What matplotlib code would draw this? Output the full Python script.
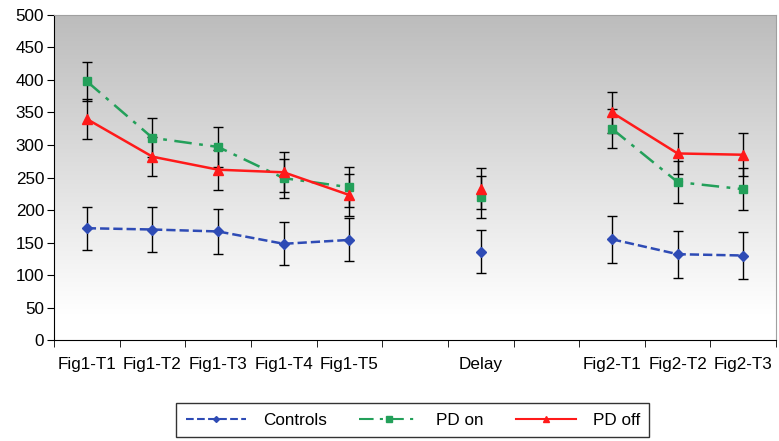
import numpy as np
import matplotlib
matplotlib.use("Agg")
import matplotlib.pyplot as plt
from matplotlib.lines import Line2D

plt.rcParams['font.family'] = ['Liberation Sans', 'DejaVu Sans']

nan = np.nan
# categories (two empty slots act as gaps, like in the original sheet)
categories = ['Fig1-T1', 'Fig1-T2', 'Fig1-T3', 'Fig1-T4', 'Fig1-T5', '',
              'Delay', '', 'Fig2-T1', 'Fig2-T2', 'Fig2-T3']

controls = [172, 170, 167, 148, 154, nan, 136, nan, 155, 132, 130]
controls_err = [33, 34, 34, 33, 33, nan, 33, nan, 36, 36, 36]
pd_on = [398, 311, 297, 249, 235, nan, 220, nan, 325, 243, 232]
pd_on_err = [30, 30, 31, 30, 31, nan, 32, nan, 30, 32, 32]
pd_off = [340, 282, 262, 258, 223, nan, 233, nan, 350, 287, 285]
pd_off_err = [30, 30, 31, 31, 32, nan, 32, nan, 31, 32, 33]

fig = plt.figure(figsize=(7.79, 4.41), dpi=100)
ax = fig.add_axes([0.0693, 0.229, 0.927, 0.737])

x = np.arange(len(categories))

# gray -> white gradient background
grad = np.linspace(0, 1, 256).reshape(-1, 1)
cmap = matplotlib.colors.LinearSegmentedColormap.from_list(
    'bg', [(0, '#ffffff'), (0.08, '#ffffff'), (1, '#bcbcbc')])
ax.imshow(grad, aspect='auto', cmap=cmap, origin='lower',
          extent=[-0.5, len(categories) - 0.5, 0, 500], zorder=0)

series = [
    (controls, controls_err, '#2e4bb5', '--', 'D', 5, 'Controls'),
    (pd_on, pd_on_err, '#23a05a', (0, (7, 3, 1.5, 3)), 's', 6, 'PD on'),
    (pd_off, pd_off_err, '#ff1a1a', '-', '^', 7, 'PD off'),
]

for vals, err, col, ls, mk, ms, lab in series:
    ax.errorbar(x, vals, yerr=err, fmt='none', ecolor='black',
                elinewidth=1, capsize=3.5, capthick=1, zorder=2)

for vals, err, col, ls, mk, ms, lab in series:
    ax.plot(x, vals, color=col, linestyle=ls, linewidth=1.8,
            marker=mk, markersize=ms, markeredgecolor=col, zorder=3)

ax.set_xlim(-0.5, len(categories) - 0.5)
ax.set_ylim(0, 500)
ax.set_yticks(np.arange(0, 501, 50))
ax.set_xticks(x)
ax.set_xticklabels(categories)
ax.set_xticks(np.arange(-0.5, len(categories), 1), minor=True)
ax.tick_params(axis='x', which='major', length=0, pad=12, labelsize=12.3)
ax.tick_params(axis='x', which='minor', length=5, direction='out')
ax.tick_params(axis='y', length=5, direction='out', labelsize=12.3, pad=2)

for s in ['top', 'right']:
    ax.spines[s].set_color('#a0a0a0')
ax.spines['left'].set_color('black')
ax.spines['bottom'].set_color('black')

handles = [Line2D([], [], color=c, linestyle=ls, linewidth=1.5, marker=mk,
                  markersize=ms - 2, markeredgecolor=c)
           for _, _, c, ls, mk, ms, _ in series]
labels = [s[-1] for s in series]
leg = fig.legend(handles, labels, loc='center', ncol=3,
                 bbox_to_anchor=(0.53, 0.0475), frameon=True,
                 fancybox=False, edgecolor='black', fontsize=12.3,
                 handlelength=3.5, columnspacing=1.9, handletextpad=1.0,
                 borderpad=0.55, borderaxespad=0)
leg.get_frame().set_linewidth(1)

fig.savefig('out.png', dpi=100)
